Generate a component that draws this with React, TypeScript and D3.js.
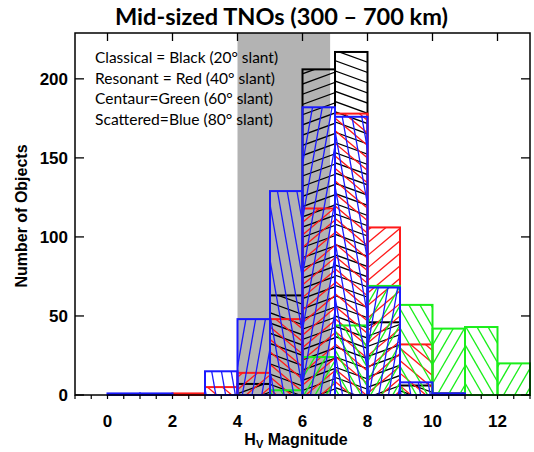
import React from "react";
import * as d3 from "d3";

// histogram bins (lower edge of each 1-mag bin)
const binStarts = [0, 1, 2, 3, 4, 5, 6, 7, 8, 9, 10, 11, 12];
const classical = [0, 0, 0, 0, 7, 63, 206, 217, 46, 6, 1, 0, 0];
const resonant = [0, 0, 1, 5, 14, 48, 118, 178, 106, 32, 0, 0, 0];
const centaur = [0, 0, 0, 0, 0, 3, 24, 44, 69, 57, 42, 43, 20];
const scattered = [1, 1, 0, 15, 48, 129, 182, 176, 68, 8, 1, 0, 0];

const xTicks = [0, 2, 4, 6, 8, 10, 12];
const yTicks = [0, 50, 100, 150, 200];
const grayBand = [4, 6.85];

const legendLines = [
  "Classical = Black (20° slant)",
  "Resonant = Red (40° slant)",
  "Centaur=Green (60° slant)",
  "Scattered=Blue (80° slant)",
];
const legendWidths = [183, 180, 178, 178];

const series = [
  { name: "classical", values: classical, color: "#000000", angle: 20 },
  { name: "resonant", values: resonant, color: "#ff1a1a", angle: 40 },
  { name: "centaur", values: centaur, color: "#1aee1a", angle: 60 },
  { name: "scattered", values: scattered, color: "#1a1aff", angle: 80 },
];

const W = 534, H = 452;
const x = d3.scaleLinear().domain([-1, 13]).range([75, 530]);
const y = d3.scaleLinear().domain([0, 229]).range([395, 33]);
const spacing = 9.6;

// parallel lines through a box, clipped later by a clipPath
function hatch(x0, y0, x1, y1, angle, flip) {
  const a = (angle * Math.PI) / 180;
  const dx = Math.cos(a), dy = flip ? Math.sin(a) : -Math.sin(a);
  const nx = -dy, ny = dx;
  const ps = [[x0, y0], [x1, y0], [x0, y1], [x1, y1]].map(([px, py]) => px * nx + py * ny);
  const pmin = Math.min(...ps), pmax = Math.max(...ps);
  const cx = (x0 + x1) / 2, cy = (y0 + y1) / 2;
  const t0 = cx * dx + cy * dy;
  const L = Math.hypot(x1 - x0, y1 - y0) + 10;
  const out = [];
  for (let k = Math.ceil(pmin / spacing); k <= Math.floor(pmax / spacing); k++) {
    const p = k * spacing;
    const bx = nx * p + dx * t0, by = ny * p + dy * t0;
    out.push([bx - dx * L, by - dy * L, bx + dx * L, by + dy * L]);
  }
  return out;
}

export default function App() {
  const minor = d3.range(-1, 13.01, 0.5);
  return (
    <div style={{ position: "absolute", left: 0, top: 0 }}>
      <svg width={W} height={H} style={{ display: "block", background: "#fff" }}>
        <rect x={x(grayBand[0])} y={y(229)} width={x(grayBand[1]) - x(grayBand[0])}
          height={y(0) - y(229)} fill="#b3b3b3" />

        {series.map((s) => (
          <g key={s.name}>
            {binStarts.map((b, i) => {
              const v = s.values[i];
              if (!v) return null;
              const x0 = x(b), x1 = x(b + 1), y0 = y(v), y1 = y(0);
              const id = `clip-${s.name}-${i}`;
              return (
                <g key={i}>
                  <clipPath id={id}>
                    <rect x={x0} y={y0} width={x1 - x0} height={y1 - y0} />
                  </clipPath>
                  <g clipPath={`url(#${id})`}>
                    {hatch(x0, y0, x1, y1, s.angle, b % 2 === 1).map((l, j) => (
                      <line key={j} x1={l[0]} y1={l[1]} x2={l[2]} y2={l[3]}
                        stroke={s.color} strokeWidth={1.3} />
                    ))}
                  </g>
                  <rect x={x0} y={y0} width={x1 - x0} height={y1 - y0}
                    fill="none" stroke={s.color} strokeWidth={2} />
                </g>
              );
            })}
          </g>
        ))}

        {/* frame */}
        <rect x={x(-1)} y={y(229)} width={x(13) - x(-1)} height={y(0) - y(229)}
          fill="none" stroke="#000" strokeWidth={1.5} />
        {minor.map((t) => (
          <line key={"mb" + t} x1={x(t)} x2={x(t)} y1={y(0)} y2={y(0) + 4} stroke="#000" strokeWidth={1.2} />
        ))}
        {xTicks.map((t) => (
          <line key={"mt" + t} x1={x(t)} x2={x(t)} y1={y(229)} y2={y(229) + 8} stroke="#000" strokeWidth={1.3} />
        ))}
        {yTicks.map((t) => (
          <g key={"y" + t}>
            <line x1={x(-1)} x2={x(-1) + 9} y1={y(t)} y2={y(t)} stroke="#000" strokeWidth={1.3} />
            <line x1={x(13)} x2={x(13) - 9} y1={y(t)} y2={y(t)} stroke="#000" strokeWidth={1.3} />
            <text x={68} y={y(t)} dy="0.36em" textAnchor="end" fontFamily="Liberation Sans, Arial"
              fontWeight="bold" fontSize={17}>{t}</text>
          </g>
        ))}
        {xTicks.map((t) => (
          <text key={"xl" + t} x={x(t)} y={427} textAnchor="middle" fontFamily="Liberation Sans, Arial"
            fontWeight="bold" fontSize={17}>{t}</text>
        ))}

        <text x={296} y={445} textAnchor="middle" fontFamily="Liberation Sans, Arial" fontWeight="bold" fontSize={16}>
          H<tspan fontSize={11} dy={3}>V</tspan><tspan dy={-3}> Magnitude</tspan>
        </text>
        <text transform="translate(27,216) rotate(-90)" textAnchor="middle"
          fontFamily="Liberation Sans, Arial" fontWeight="bold" fontSize={16}>Number of Objects</text>

        <text x={115} y={25} fontFamily="Lato" fontWeight="bold" fontSize={23}
          textLength={333} lengthAdjust="spacingAndGlyphs">Mid-sized TNOs (300 – 700 km)</text>

        {legendLines.map((t, i) => (
          <text key={t} x={95} y={63 + i * 20.5} fontFamily="Lato" fontSize={15}
            textLength={legendWidths[i]} lengthAdjust="spacingAndGlyphs">{t}</text>
        ))}
      </svg>
    </div>
  );
}
